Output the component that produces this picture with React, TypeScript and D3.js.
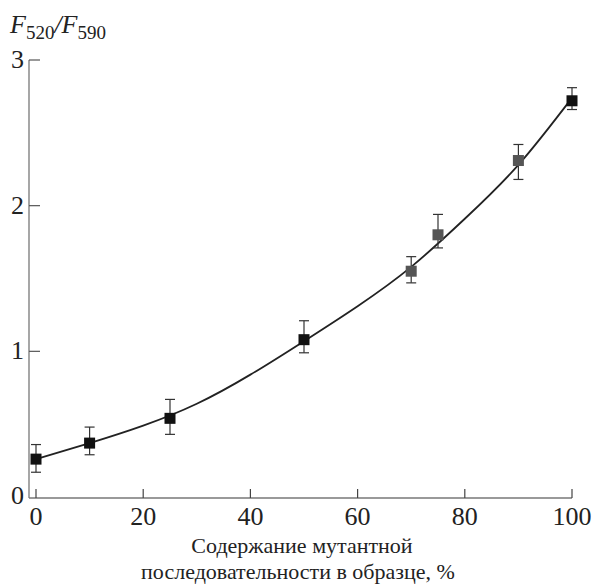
import React from "react";
import * as d3 from "d3";

const W = 594;
const H = 586;

// measured points: mutant content (%), F520/F590 ratio, error bar low/high
const content = [0, 10, 25, 50, 70, 75, 90, 100];
const ratio = [0.26, 0.37, 0.54, 1.08, 1.55, 1.80, 2.31, 2.72];
const errLow = [0.17, 0.29, 0.43, 0.99, 1.47, 1.71, 2.18, 2.66];
const errHigh = [0.36, 0.48, 0.67, 1.21, 1.65, 1.94, 2.42, 2.81];
const markColor = ["#111", "#111", "#111", "#111", "#555", "#555", "#555", "#111"];

// fitted curve
const fitX = [0, 10, 20, 30, 40, 50, 60, 70, 80, 90, 100];
const fitY = [0.26, 0.37, 0.49, 0.64, 0.84, 1.07, 1.31, 1.58, 1.91, 2.28, 2.74];

const xTicks = [0, 20, 40, 60, 80, 100];
const yTicks = [0, 1, 2, 3];

const FONT = "'Liberation Serif', 'DejaVu Serif', serif";

export default function App() {
  const x = d3.scaleLinear().domain([0, 100]).range([36, 572]);
  const y = d3.scaleLinear().domain([0, 3]).range([497, 60]);
  const axisX = 29;

  const line = d3
    .line<number>()
    .x((d, i) => x(fitX[i]))
    .y((d) => y(d))
    .curve(d3.curveNatural);

  const sq = 11;

  return (
    <svg width={W} height={H} style={{ position: "absolute", left: 0, top: 0, background: "#fff", fontFamily: FONT }}>
      {/* axes */}
      <line x1={axisX} x2={axisX} y1={y(3)} y2={y(0) + 1} stroke="#777" strokeWidth={1.3} />
      <line x1={axisX} x2={x(100)} y1={y(0) + 1} y2={y(0) + 1} stroke="#777" strokeWidth={1.3} />
      {yTicks.filter((t) => t > 0).map((t) => (
        <line key={"yt" + t} x1={axisX} x2={axisX + 11} y1={y(t)} y2={y(t)} stroke="#555" strokeWidth={1.2} />
      ))}
      {xTicks.map((t) => (
        <line key={"xt" + t} x1={x(t)} x2={x(t)} y1={y(0) + 1} y2={y(0) - 8} stroke="#444" strokeWidth={1.2} />
      ))}
      {yTicks.map((t) => (
        <text key={"yl" + t} x={24} y={y(t) + (t === 0 ? 7 : 8)} textAnchor="end" fontSize={26} fill="#222">
          {t}
        </text>
      ))}
      {xTicks.map((t) => (
        <text key={"xl" + t} x={x(t)} y={525} textAnchor="middle" fontSize={26} fill="#222">
          {t}
        </text>
      ))}
      <text x={302} y={553} textAnchor="middle" fontSize={22} fill="#222">
        Содержание мутантной
      </text>
      <text x={298} y={579} textAnchor="middle" fontSize={22} fill="#222">
        последовательности в образце, %
      </text>
      <text x={10} y={33} fontSize={26} fill="#222">
        <tspan fontStyle="italic">F</tspan>
        <tspan fontSize={19} dy={6}>520</tspan>
        <tspan fontStyle="italic" dy={-6}>/F</tspan>
        <tspan fontSize={19} dy={6}>590</tspan>
      </text>

      {/* fit */}
      <path d={line(fitY) || ""} fill="none" stroke="#222" strokeWidth={1.8} />

      {/* error bars and points */}
      {content.map((c, i) => (
        <g key={"p" + c}>
          <line x1={x(c)} x2={x(c)} y1={y(errLow[i])} y2={y(errHigh[i])} stroke="#333" strokeWidth={1.2} />
          <line x1={x(c) - 5} x2={x(c) + 5} y1={y(errLow[i])} y2={y(errLow[i])} stroke="#333" strokeWidth={1.2} />
          <line x1={x(c) - 5} x2={x(c) + 5} y1={y(errHigh[i])} y2={y(errHigh[i])} stroke="#333" strokeWidth={1.2} />
          <rect x={x(c) - sq / 2} y={y(ratio[i]) - sq / 2} width={sq} height={sq} fill={markColor[i]} />
        </g>
      ))}
    </svg>
  );
}
